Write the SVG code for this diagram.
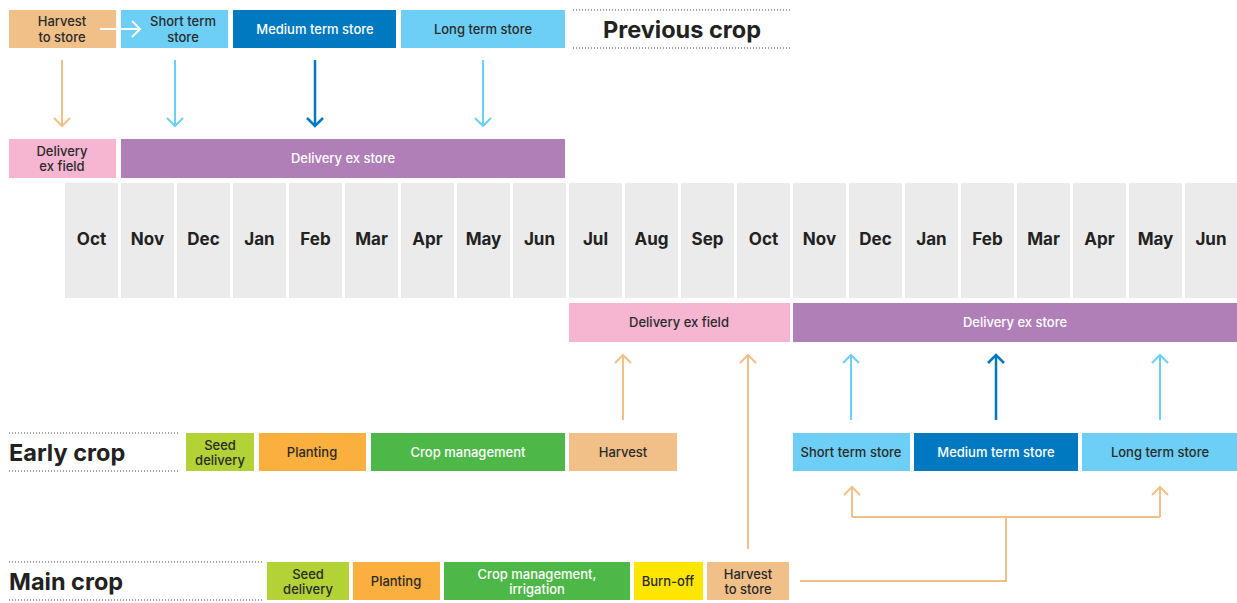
<svg xmlns="http://www.w3.org/2000/svg" width="1237" height="603" viewBox="0 0 1237 603">
<style>
text{font-family:Inter,"Noto Sans","Liberation Sans",sans-serif;text-anchor:middle;dominant-baseline:central}
.b{font-size:13px;font-weight:500;fill:#2a2a2a}
.w{font-size:13px;font-weight:500;fill:#ffffff}
.m{font-size:17px;font-weight:700;fill:#222}
.h{font-size:23.5px;font-weight:700;fill:#222;text-anchor:start}
.tan{fill:#F1C089}.lb{fill:#6DCFF6}.db{fill:#0079C1}.pk{fill:#F6B5D1}.pu{fill:#B07FB8}
.lime{fill:#B2D235}.or{fill:#FBAF3F}.gr{fill:#4DB848}.ye{fill:#FFE600}.mo{fill:#EBEBEB}
.dot{stroke:#444;stroke-width:1;stroke-dasharray:1 2;fill:none}
.c{fill:none;stroke-width:2}
.ct{stroke:#F1C089}.cl{stroke:#6DCFF6}.cd{stroke:#0079C1}.cw{stroke:#fff}
</style>
<defs>
<marker id="aT" viewBox="-10 -10 20 20" refX="0" refY="0" markerWidth="20" markerHeight="20" markerUnits="userSpaceOnUse" orient="auto" overflow="visible"><path d="M-8,-8 L0,0 L-8,8" fill="none" stroke="#F1C089" stroke-width="2"/></marker>
<marker id="aL" viewBox="-10 -10 20 20" refX="0" refY="0" markerWidth="20" markerHeight="20" markerUnits="userSpaceOnUse" orient="auto" overflow="visible"><path d="M-8,-8 L0,0 L-8,8" fill="none" stroke="#6DCFF6" stroke-width="2"/></marker>
<marker id="aD" viewBox="-10 -10 20 20" refX="0" refY="0" markerWidth="20" markerHeight="20" markerUnits="userSpaceOnUse" orient="auto" overflow="visible"><path d="M-8,-8 L0,0 L-8,8" fill="none" stroke="#0079C1" stroke-width="2.5"/></marker>
<marker id="aW" viewBox="-10 -10 20 20" refX="0" refY="0" markerWidth="20" markerHeight="20" markerUnits="userSpaceOnUse" orient="auto" overflow="visible"><path d="M-8,-8 L0,0 L-8,8" fill="none" stroke="#fff" stroke-width="2"/></marker>
</defs>
<rect width="1237" height="603" fill="#fff"/>

<!-- Previous crop top row -->
<g id="prev-harvest"><rect class="tan" x="9" y="10" width="107" height="38"/><text class="b" x="62" y="21">Harvest</text><text class="b" x="62" y="37">to store</text></g>
<g id="prev-short"><rect class="lb" x="121" y="10" width="107" height="38"/><text class="b" x="183" y="21">Short term</text><text class="b" x="183" y="37">store</text></g>
<g id="prev-medium"><rect class="db" x="233" y="10" width="163" height="38"/><text class="w" x="315" y="29">Medium term store</text></g>
<g id="prev-long"><rect class="lb" x="401" y="10" width="164" height="38"/><text class="b" x="483" y="29">Long term store</text></g>
<g id="prev-title"><line class="dot" x1="573" y1="10" x2="790" y2="10"/><line class="dot" x1="573" y1="48" x2="790" y2="48"/><text class="h" x="682" y="29" style="text-anchor:middle">Previous crop</text></g>

<g id="prev-del-field"><rect class="pk" x="9" y="139" width="107" height="39"/><text class="b" x="62" y="151">Delivery</text><text class="b" x="62" y="166">ex field</text></g>
<g id="prev-del-store"><rect class="pu" x="121" y="139" width="444" height="39"/><text class="w" x="343" y="158">Delivery ex store</text></g>

<!-- Months -->
<g id="months">
<rect class="mo" x="65" y="183" width="53" height="115"/><text class="m" x="91.5" y="239">Oct</text>
<rect class="mo" x="121" y="183" width="53" height="115"/><text class="m" x="147.5" y="239">Nov</text>
<rect class="mo" x="177" y="183" width="53" height="115"/><text class="m" x="203.5" y="239">Dec</text>
<rect class="mo" x="233" y="183" width="53" height="115"/><text class="m" x="259.5" y="239">Jan</text>
<rect class="mo" x="289" y="183" width="53" height="115"/><text class="m" x="315.5" y="239">Feb</text>
<rect class="mo" x="345" y="183" width="53" height="115"/><text class="m" x="371.5" y="239">Mar</text>
<rect class="mo" x="401" y="183" width="53" height="115"/><text class="m" x="427.5" y="239">Apr</text>
<rect class="mo" x="457" y="183" width="53" height="115"/><text class="m" x="483.5" y="239">May</text>
<rect class="mo" x="513" y="183" width="53" height="115"/><text class="m" x="539.5" y="239">Jun</text>
<rect class="mo" x="569" y="183" width="53" height="115"/><text class="m" x="595.5" y="239">Jul</text>
<rect class="mo" x="625" y="183" width="53" height="115"/><text class="m" x="651.5" y="239">Aug</text>
<rect class="mo" x="681" y="183" width="53" height="115"/><text class="m" x="707.5" y="239">Sep</text>
<rect class="mo" x="737" y="183" width="53" height="115"/><text class="m" x="763.5" y="239">Oct</text>
<rect class="mo" x="793" y="183" width="53" height="115"/><text class="m" x="819.5" y="239">Nov</text>
<rect class="mo" x="849" y="183" width="53" height="115"/><text class="m" x="875.5" y="239">Dec</text>
<rect class="mo" x="905" y="183" width="53" height="115"/><text class="m" x="931.5" y="239">Jan</text>
<rect class="mo" x="961" y="183" width="53" height="115"/><text class="m" x="987.5" y="239">Feb</text>
<rect class="mo" x="1017" y="183" width="53" height="115"/><text class="m" x="1043.5" y="239">Mar</text>
<rect class="mo" x="1073" y="183" width="53" height="115"/><text class="m" x="1099.5" y="239">Apr</text>
<rect class="mo" x="1129" y="183" width="53" height="115"/><text class="m" x="1155.5" y="239">May</text>
<rect class="mo" x="1185" y="183" width="52" height="115"/><text class="m" x="1211" y="239">Jun</text>
</g>

<g id="del-field"><rect class="pk" x="569" y="303" width="221" height="39"/><text class="b" x="679" y="322">Delivery ex field</text></g>
<g id="del-store"><rect class="pu" x="793" y="303" width="444" height="39"/><text class="w" x="1015" y="322">Delivery ex store</text></g>

<!-- Early crop -->
<g id="early-title"><line class="dot" x1="9" y1="433" x2="178" y2="433"/><line class="dot" x1="9" y1="471" x2="178" y2="471"/><text class="h" x="9" y="452">Early crop</text></g>
<g id="early-seed"><rect class="lime" x="186" y="433" width="68" height="38"/><text class="b" x="220" y="445">Seed</text><text class="b" x="220" y="460">delivery</text></g>
<g id="early-planting"><rect class="or" x="259" y="433" width="107" height="38"/><text class="b" x="312" y="452">Planting</text></g>
<g id="early-mgmt"><rect class="gr" x="371" y="433" width="194" height="38"/><text class="w" x="468" y="452">Crop management</text></g>
<g id="early-harvest"><rect class="tan" x="569" y="433" width="108" height="38"/><text class="b" x="623" y="452">Harvest</text></g>
<g id="short"><rect class="lb" x="793" y="433" width="117" height="38"/><text class="b" x="851" y="452">Short term store</text></g>
<g id="medium"><rect class="db" x="914" y="433" width="164" height="38"/><text class="w" x="996" y="452">Medium term store</text></g>
<g id="long"><rect class="lb" x="1082" y="433" width="155" height="38"/><text class="b" x="1160" y="452">Long term store</text></g>

<!-- Main crop -->
<g id="main-title"><line class="dot" x1="9" y1="562" x2="262" y2="562"/><line class="dot" x1="9" y1="600" x2="262" y2="600"/><text class="h" x="9" y="581">Main crop</text></g>
<g id="main-seed"><rect class="lime" x="267" y="562" width="82" height="38"/><text class="b" x="308" y="574">Seed</text><text class="b" x="308" y="589">delivery</text></g>
<g id="main-planting"><rect class="or" x="353" y="562" width="87" height="38"/><text class="b" x="396" y="581">Planting</text></g>
<g id="main-mgmt"><rect class="gr" x="444" y="562" width="186" height="38"/><text class="w" x="537" y="574">Crop management,</text><text class="w" x="537" y="589">irrigation</text></g>
<g id="main-burn"><rect class="ye" x="634" y="562" width="69" height="38"/><text class="b" x="668" y="581">Burn-off</text></g>
<g id="main-harvest"><rect class="tan" x="707" y="562" width="82" height="38"/><text class="b" x="748" y="574">Harvest</text><text class="b" x="748" y="589">to store</text></g>

<!-- Connectors -->
<g id="connectors">
<path class="c cw" d="M100,29 H140" marker-end="url(#aW)"/>
<path class="c ct" d="M62,60 V126" marker-end="url(#aT)"/>
<path class="c cl" d="M175,60 V126" marker-end="url(#aL)"/>
<path class="c cd" style="stroke-width:2.5" d="M315,60 V126" marker-end="url(#aD)"/>
<path class="c cl" d="M483,60 V126" marker-end="url(#aL)"/>
<path class="c ct" d="M623,420 V355" marker-end="url(#aT)"/>
<path class="c ct" d="M748,549 V355" marker-end="url(#aT)"/>
<path class="c cl" d="M851,420 V355" marker-end="url(#aL)"/>
<path class="c cd" style="stroke-width:2.5" d="M996,420 V355" marker-end="url(#aD)"/>
<path class="c cl" d="M1160,420 V355" marker-end="url(#aL)"/>
<path class="c ct" d="M800,581 H1006 V517"/>
<path class="c ct" d="M852,517 H1160"/>
<path class="c ct" d="M852,517 V487" marker-end="url(#aT)"/>
<path class="c ct" d="M1160,517 V487" marker-end="url(#aT)"/>
</g>
</svg>
